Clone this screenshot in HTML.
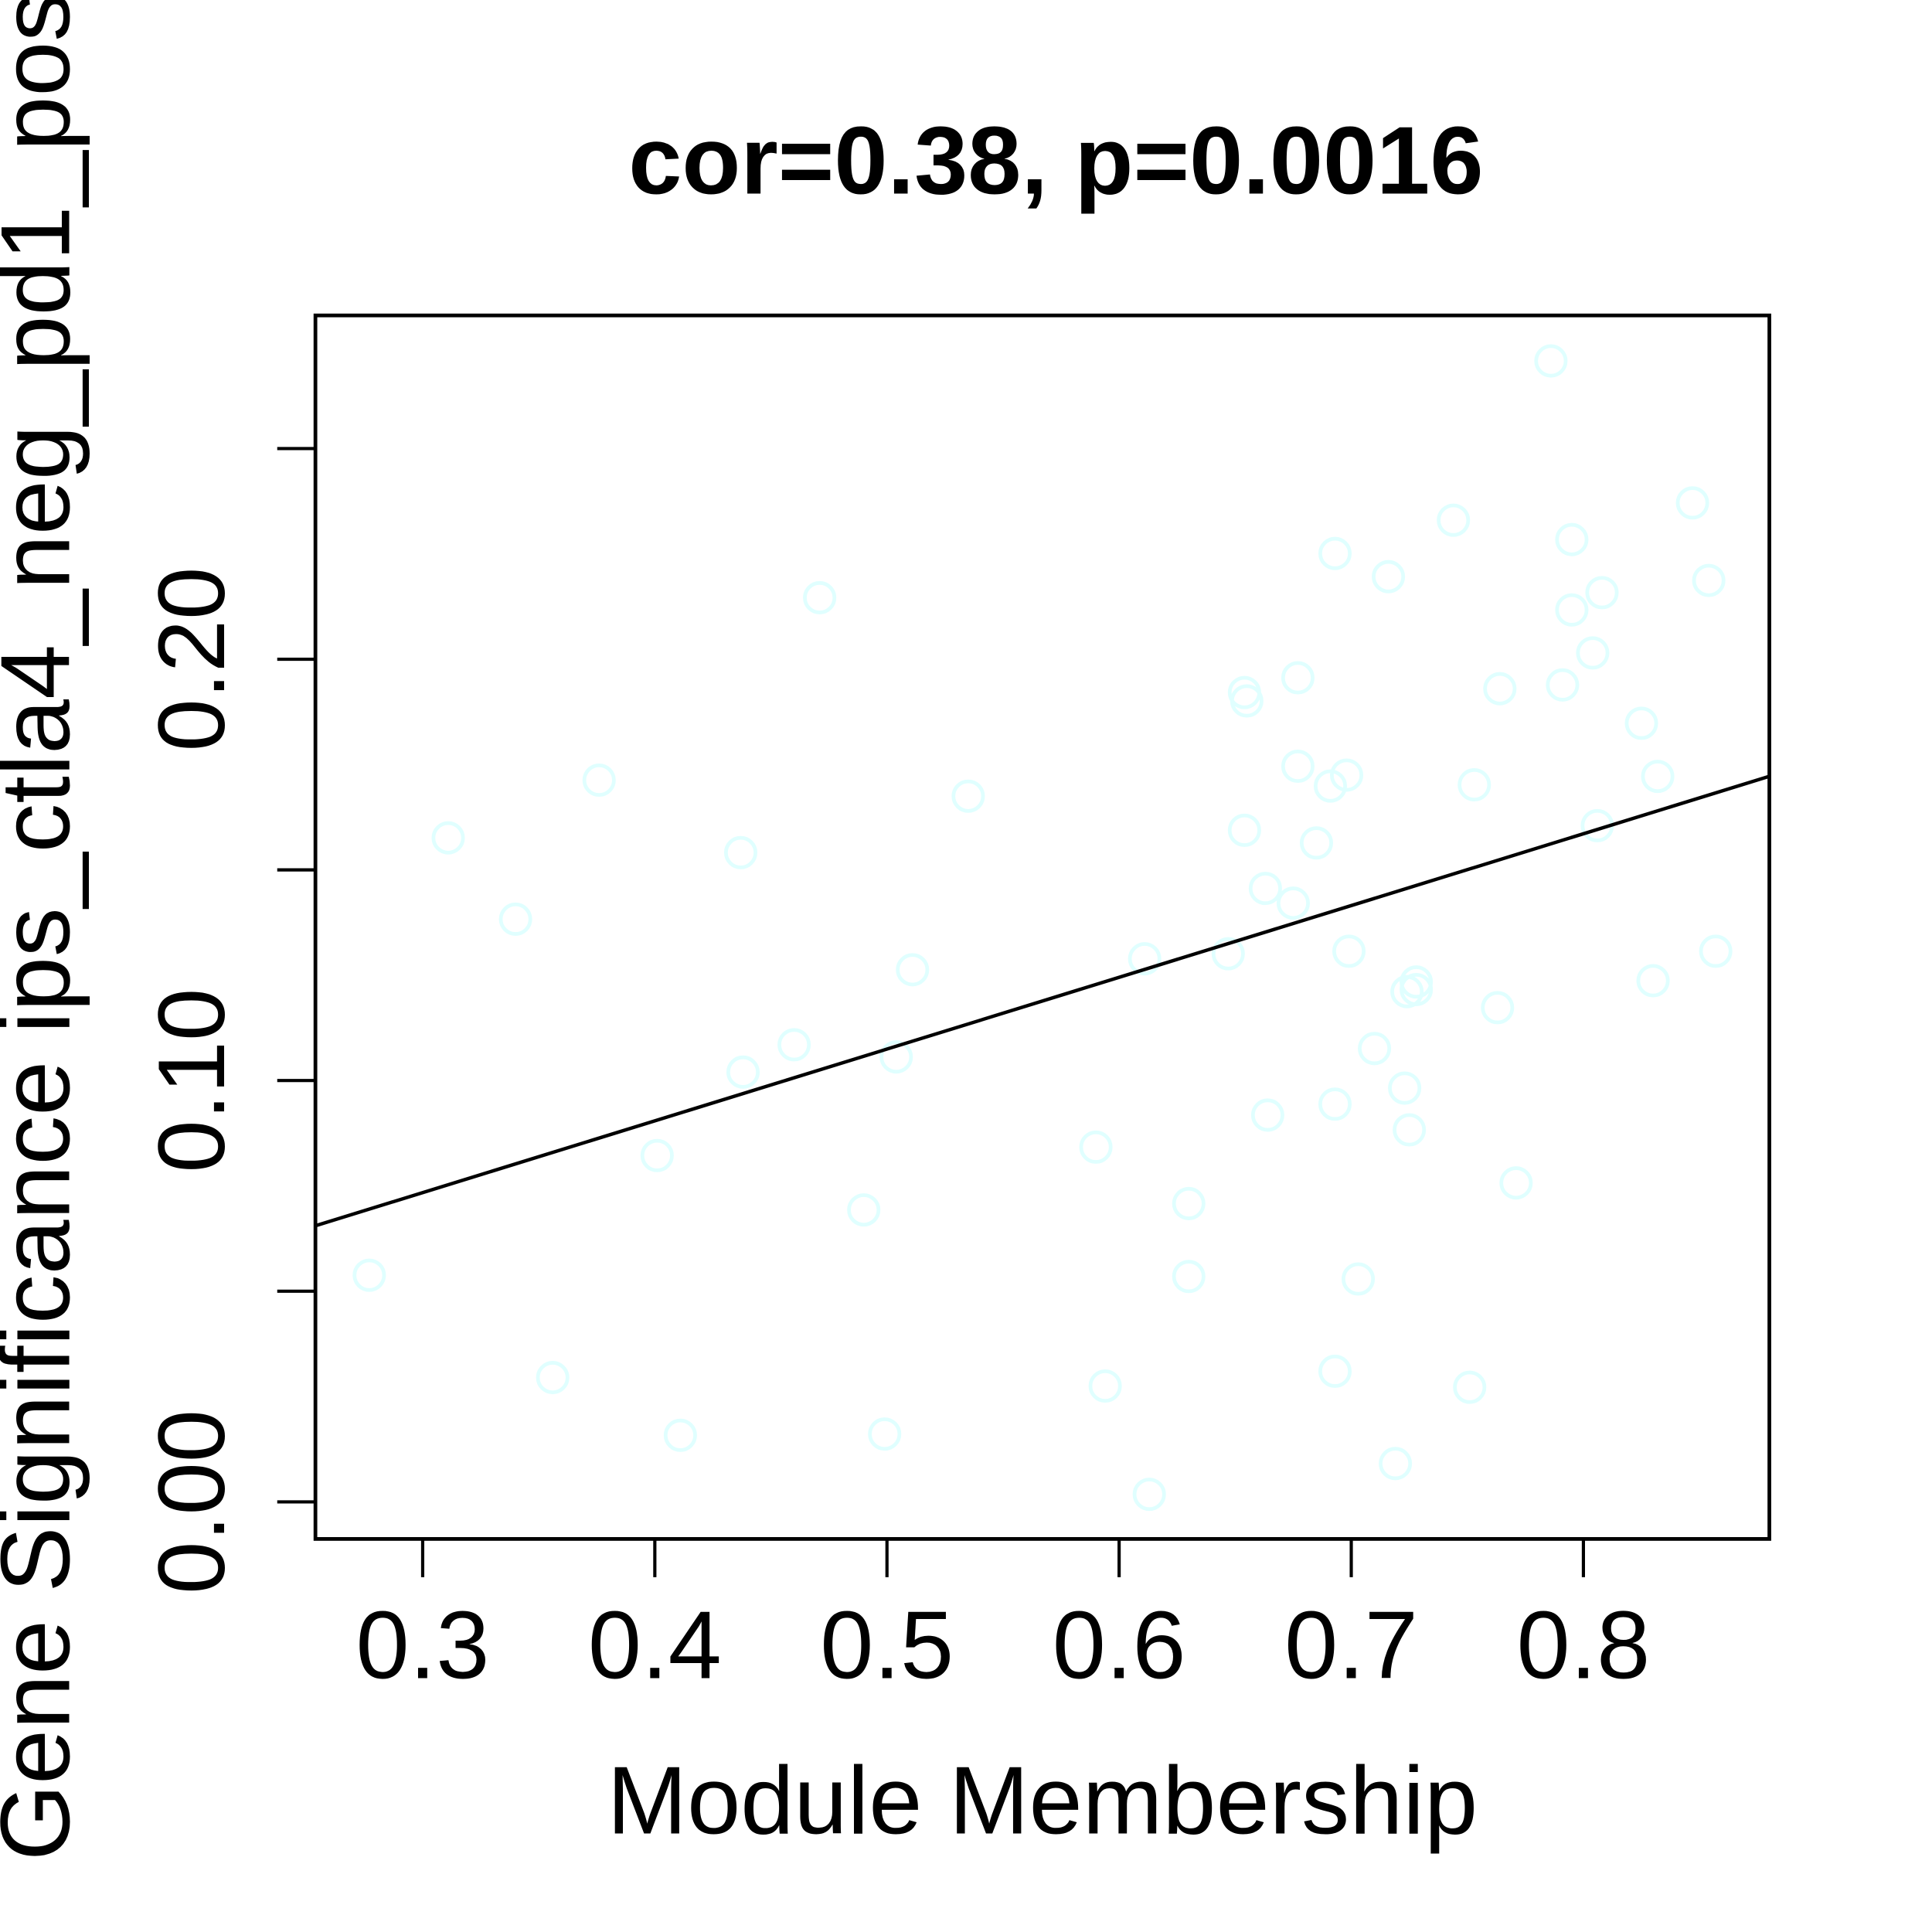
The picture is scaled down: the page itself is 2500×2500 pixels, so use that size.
<!DOCTYPE html>
<html><head><meta charset="utf-8"><style>
html,body{margin:0;padding:0;background:#fff;}
svg{display:block;}
text{font-family:"Liberation Sans",Arial,sans-serif;fill:#000;}
</style></head><body>
<svg id="chart" width="2500" height="2500" viewBox="0 0 1568 1568" xmlns="http://www.w3.org/2000/svg">
<rect width="1568" height="1568" fill="#fff"/>
<text x="857" y="157" font-size="78" font-weight="bold" text-anchor="middle">cor=0.38, p=0.0016</text>
<text x="846" y="1488" font-size="78" text-anchor="middle">Module Membership</text>
<text transform="translate(56,752) rotate(-90)" font-size="80" text-anchor="middle">Gene Significance ips_ctla4_neg_pd1_pos</text>
<g id="marks"></g>
<rect x="256" y="256" width="1180" height="993" fill="none" stroke="#000" stroke-width="3"/>
<g id="axes"></g>
</svg>
<script>
const xTicks = [0.3, 0.4, 0.5, 0.6, 0.7, 0.8];
const xTickLabels = ["0.3", "0.4", "0.5", "0.6", "0.7", "0.8"];
const yTicks = [0, 0.05, 0.10, 0.15, 0.20, 0.25];
const yTickLabels = ["0.00", "", "0.10", "", "0.20", ""];
const mmValues = [0.277,0.311,0.340,0.356,0.376,0.401,0.411,0.437,0.438,0.460,0.471,0.490,0.499,0.504,0.511,0.535,0.590,0.594,0.611,0.613,0.630,0.630,0.647,0.654,0.655,0.654,0.663,0.664,0.675,0.677,0.677,0.685,0.691,0.693,0.693,0.693,0.698,0.699,0.703,0.710,0.716,0.719,0.723,0.724,0.725,0.728,0.728,0.744,0.751,0.753,0.763,0.764,0.771,0.786,0.791,0.795,0.795,0.804,0.806,0.808,0.825,0.830,0.832,0.847,0.854,0.857];
const gsValues = [0.0538,0.1576,0.1383,0.0295,0.1713,0.0822,0.0158,0.1541,0.1020,0.1085,0.2146,0.0693,0.0161,0.1056,0.1263,0.1675,0.0842,0.0275,0.1289,0.0018,0.0708,0.0535,0.1301,0.1921,0.1901,0.1594,0.1456,0.0918,0.1421,0.1956,0.1746,0.1564,0.1699,0.0944,0.2251,0.0310,0.1725,0.1307,0.0529,0.1076,0.2196,0.0091,0.0982,0.1211,0.0883,0.1234,0.1216,0.2330,0.0272,0.1702,0.1173,0.1930,0.0757,0.2708,0.1939,0.2284,0.2117,0.2015,0.1605,0.2158,0.1848,0.1237,0.1722,0.2371,0.2187,0.1307];

const NS = "http://www.w3.org/2000/svg";
const L = 256, R = 1436, T = 256, B = 1249;
const xMin = 0.2538, xMax = 0.8801, yMin = -0.0088, yMax = 0.2816;
function sx(v){ return L + (v - xMin) / (xMax - xMin) * (R - L); }
function sy(v){ return B - (v - yMin) / (yMax - yMin) * (B - T); }
function mk(tag, attrs, parent){ const e = document.createElementNS(NS, tag); for (const k in attrs) e.setAttribute(k, attrs[k]); parent.appendChild(e); return e; }

const marks = document.getElementById('marks');
const axes = document.getElementById('axes');

for (let i = 0; i < mmValues.length; i++) {
  const c = mk('circle', {cx: sx(mmValues[i]), cy: sy(gsValues[i]), r: 12, fill: 'none', stroke: '#E0FFFF', 'stroke-width': 3}, marks);
  
  
}

const n = mmValues.length;
let mx = 0, my = 0;
for (let i = 0; i < n; i++) { mx += mmValues[i]; my += gsValues[i]; }
mx /= n; my /= n;
let sxy = 0, sxx = 0;
for (let i = 0; i < n; i++) { sxy += (mmValues[i]-mx)*(gsValues[i]-my); sxx += (mmValues[i]-mx)**2; }
const slope = sxy / sxx, icpt = my - slope * mx;
const line = mk('line', {x1: L, y1: sy(icpt + slope * xMin), x2: R, y2: sy(icpt + slope * xMax), stroke: '#000', 'stroke-width': 2.8}, marks);



for (let i = 0; i < xTicks.length; i++) {
  const x = sx(xTicks[i]);
  const t = mk('line', {x1: x, y1: B, x2: x, y2: B + 31, stroke: '#000', 'stroke-width': 2.6}, axes);
  
  
  const lb = mk('text', {x: x, y: 1362, 'font-size': 78, 'text-anchor': 'middle'}, axes);
  lb.textContent = xTickLabels[i];
  
  
}
for (let i = 0; i < yTicks.length; i++) {
  const y = sy(yTicks[i]);
  const t = mk('line', {x1: L - 31, y1: y, x2: L, y2: y, stroke: '#000', 'stroke-width': 2.6}, axes);
  
  
  if (yTickLabels[i]) {
    const lb = mk('text', {transform: 'translate(182,' + y + ') rotate(-90)', 'font-size': 77, 'text-anchor': 'middle'}, axes);
    lb.textContent = yTickLabels[i];
    
    
  }
}
</script>
</body></html>
